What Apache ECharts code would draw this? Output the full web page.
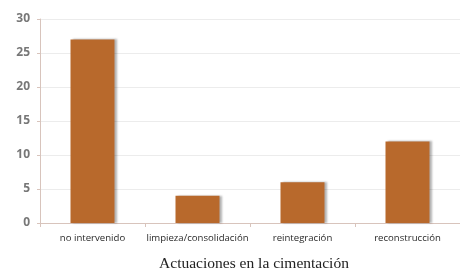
<!DOCTYPE html>
<html>
<head>
<meta charset="utf-8">
<script src="https://cdn.jsdelivr.net/npm/echarts@6/dist/echarts.min.js"></script>
<style>
  html, body { margin: 0; padding: 0; background: #fff; }
  #chart { width: 460px; height: 272px; }
</style>
</head>
<body>
<div id="chart"></div>
<script>
const categories = ['no intervenido', 'limpieza/consolidación', 'reintegración', 'reconstrucción'];
const values = [27, 4, 6, 12];
const chartTitle = 'Actuaciones en la cimentación';

const myChart = echarts.init(document.getElementById('chart'));

myChart.setOption({
  animation: false,
  title: {
    text: chartTitle,
    left: 249,
    textAlign: 'center',
    top: 251,
    textStyle: {
      fontFamily: 'Liberation Serif',
      fontSize: 15.5,
      fontWeight: 'normal',
      color: '#222'
    }
  },
  grid: {
    left: 40,
    top: 19,
    width: 422,
    height: 204
  },
  xAxis: {
    type: 'category',
    data: categories,
    axisLine: { lineStyle: { color: '#d8c4bc' } },
    axisTick: { show: true, alignWithLabel: false, length: 4, lineStyle: { color: '#d8c4bc' } },
    axisLabel: {
      fontFamily: 'Open Sans',
      fontSize: 9.6,
      color: '#2a2a2a',
      margin: 10,
      interval: 0
    }
  },
  yAxis: {
    type: 'value',
    min: 0,
    max: 30,
    interval: 5,
    axisLine: { show: true, lineStyle: { color: '#d8c4bc' } },
    axisTick: { show: true, length: 3, lineStyle: { color: '#d8c4bc' } },
    splitLine: { lineStyle: { color: '#ececec' } },
    axisLabel: {
      fontFamily: 'Open Sans',
      fontSize: 12,
      fontWeight: 'bold',
      color: '#777',
      margin: 10
    }
  },
  series: [{
    type: 'bar',
    data: values,
    barWidth: 44,
    itemStyle: {
      color: '#b8692c',
      shadowColor: 'rgba(0,0,0,0.3)',
      shadowBlur: 2,
      shadowOffsetX: 2,
      shadowOffsetY: 0
    }
  }]
});
</script>
</body>
</html>
